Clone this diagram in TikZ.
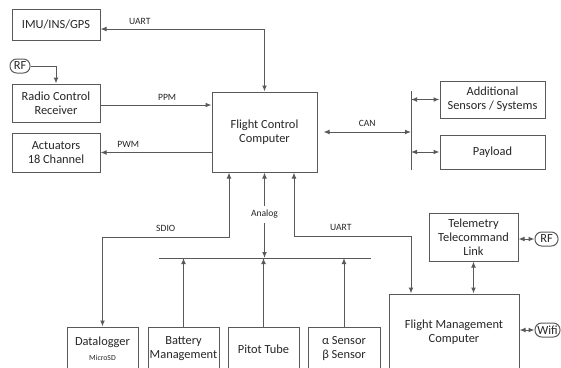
\documentclass[tikz,border=0pt]{standalone}
\usepackage{fontspec}
\setmainfont{Carlito}
\usetikzlibrary{arrows.meta}
\definecolor{linegray}{HTML}{595959}
\definecolor{textgray}{HTML}{262626}

\begin{document}
\begin{tikzpicture}[x=0.75pt,y=-0.75pt,
    font=\fontsize{9.3}{10.5}\selectfont, text=textgray,
    blk/.style 2 args={draw=linegray,line width=0.75pt,align=center,inner sep=0pt,
      minimum width=#1*0.75pt,minimum height=#2*0.75pt},
    pill/.style={draw=linegray,line width=0.75pt,rounded corners=5pt,inner sep=0pt,
      minimum width=#1*0.75pt,minimum height=10.5pt},
    lbl/.style={font=\fontsize{7.2}{8}\selectfont},
    link/.style={draw=linegray,line width=0.75pt,>={Latex[length=4.5pt,width=3.6pt]}}]
  \useasboundingbox (0,0) rectangle (561,368);
  \clip (0,0) rectangle (561,368);
  % left column
  \node[blk={88}{31}] (imu) at (56,24.5) {IMU/INS/GPS};
  \node[pill=20] (rf) at (20,66) {RF};
  \node[blk={88}{38}] (rcr) at (56,103) {Radio Control\\Receiver};
  \node[blk={88}{39}] (act) at (56,152.5) {Actuators\\18 Channel};
  % centre and CAN side
  \node[blk={105}{80}] (fcc) at (264.5,132) {Flight Control\\Computer};
  \node[blk={105}{37}] (extra) at (492.5,99.5) {Additional\\Sensors / Systems};
  \node[blk={105}{34}] (payload) at (492.5,152) {Payload};
  \coordinate (canT) at (411,91);
  \coordinate (canB) at (411,170);
  % right bottom
  \node[blk={89}{48}] (ttl) at (473.5,237) {Telemetry\\Telecommand\\Link};
  \node[pill=23] (rftl) at (546.5,239) {RF};
  \node[blk={130}{76}] (fmc) at (454,332) {Flight Management\\Computer};
  \node[pill=25] (wifi) at (547.5,330) {Wifi};
  % bottom row
  \node[blk={71}{44}] (dlog) at (102.5,349) {Datalogger\\[1pt]{\fontsize{5.8}{7}\selectfont MicroSD}};
  \node[blk={71}{44}] (bms) at (183.5,349) {Battery\\Management};
  \node[blk={71}{44}] (pitot) at (263.5,349) {Pitot Tube};
  \node[blk={72}{44}] (aoa) at (344,349) {α Sensor\\β Sensor};
  \coordinate (busL) at (159,258);
  \coordinate (busR) at (371,258);
  \coordinate (sdio) at (229,237);
  \coordinate (uartL) at (294,236);
  \coordinate (uartR) at (411,236);

  \draw[link,<->] ([yshift=-3.4pt]imu.east) -| node[lbl,above,pos=0.12] (uarttop) {UART} (fcc.north);
  \draw[link,->] (rf.east) -| (rcr.north);
  \draw[link,->] ([yshift=-1.5pt]rcr.east) -- node[lbl,above,pos=0.6] (ppm) {PPM} ([yshift=-1.5pt]rcr.east -| fcc.west);
  \draw[link,->] (act.east -| fcc.west) -- node[lbl,above,pos=0.75] (pwm) {PWM} (act.east);
  \draw[link,<->] ([xshift=4.5pt]fcc.east) -- node[lbl,above] (can) {CAN} (fcc.east -| canT);
  \draw[link] (canT) -- (canB);
  \draw[link,<->] (extra.west -| canT) -- (extra.west);
  \draw[link,<->] (payload.west -| canT) -- (payload.west);
  \draw[link,<->] (fcc.south) -- node[lbl,fill=white,pos=0.49] (analog) {Analog} (fcc.south |- busL);
  \draw[link] (busL) -- (busR);
  \draw[link,->] (bms.north) -- (bms.north |- busL);
  \draw[link,->] (pitot.north) -- (pitot.north |- busL);
  \draw[link,->] (aoa.north) -- (aoa.north |- busL);
  \draw[link,<->] (fcc.south -| sdio) -- (sdio) -| node[lbl,above,pos=0.25] (sdiolbl) {SDIO} (dlog.north);
  \draw[link,<->] (fcc.south -| uartL) -- (uartL) -- node[lbl,above,pos=0.4] (uartbot) {UART} (uartR) -- (fmc.north -| uartR);
  \draw[link,<->] (ttl.south) -- (ttl.south |- fmc.north);
  \draw[link,<->] (rftl.west -| ttl.east) -- (rftl.west);
  \draw[link,<->] (wifi.west -| fmc.east) -- (wifi.west);
\end{tikzpicture}
\end{document}
